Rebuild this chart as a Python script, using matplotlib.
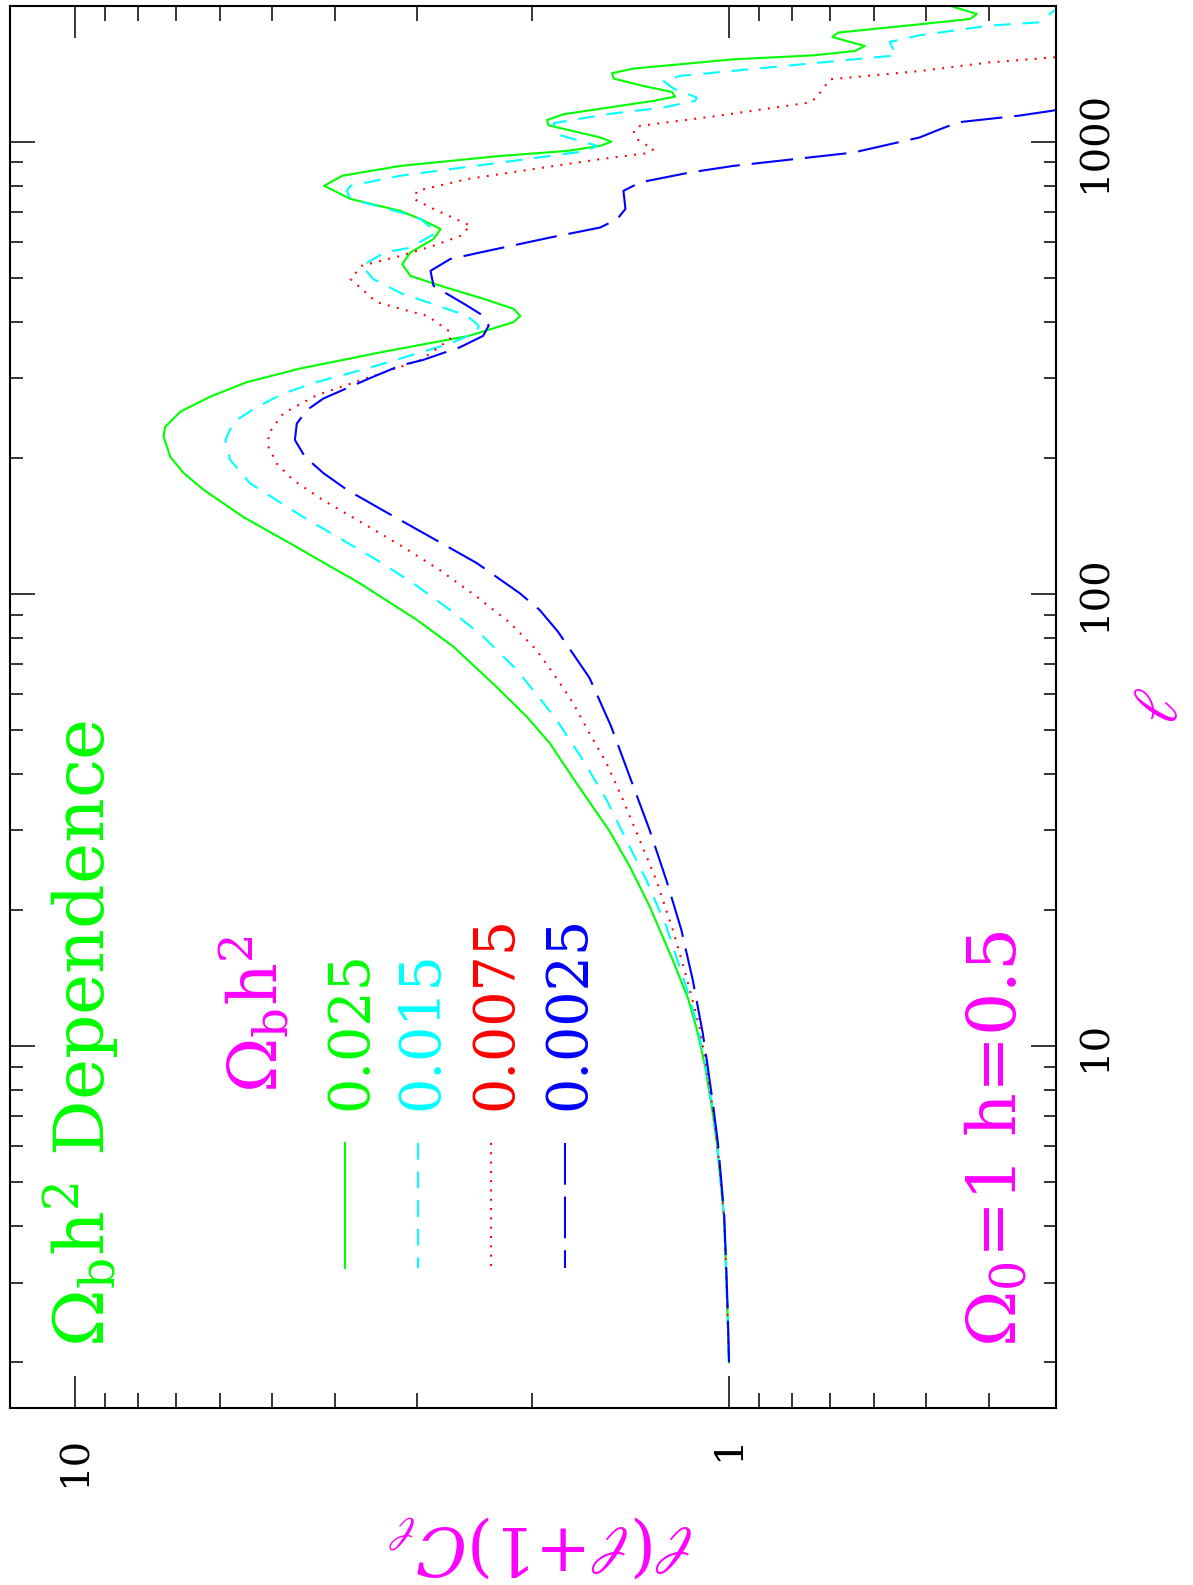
import numpy as np
import matplotlib
matplotlib.use('Agg')
import matplotlib.pyplot as plt
from matplotlib.ticker import LogLocator, NullFormatter

plt.rcParams['font.family'] = ['DejaVu Serif', 'DejaVu Sans']
plt.rcParams['mathtext.fontset'] = 'dejavuserif'
plt.rcParams['lines.scale_dashes'] = False

# multipole l and l(l+1)C_l (normalised at l=2)
l_green = [2, 2.53, 3.27, 4.22, 4.99, 6.12, 7.37, 9.03, 10.9, 12.7, 15.5, 20.4, 25.0,
           29.9, 38.2, 46.8, 53.6, 62.4, 76.5, 87.6, 105.6, 129.4, 148, 170, 185, 201,
           223, 234, 253, 273, 294, 315, 343, 372, 399, 412, 427, 449, 480, 505, 536,
           569, 609, 641, 674, 703, 747, 799, 841, 884, 930, 954, 979, 1000, 1022,
           1087, 1117, 1150, 1231, 1258, 1288, 1333, 1379, 1417, 1451, 1521, 1552,
           1587, 1628, 1704, 1743, 1818, 1868, 1916, 1983, 2000]
c_green = [1.0, 1.005, 1.011, 1.018, 1.03, 1.044, 1.063, 1.088, 1.12, 1.154, 1.219,
           1.323, 1.419, 1.523, 1.712, 1.88, 2.04, 2.27, 2.64, 3.0, 3.67, 4.69, 5.53,
           6.36, 6.82, 7.15, 7.32, 7.28, 6.9, 6.21, 5.46, 4.53, 3.38, 2.5, 2.135,
           2.085, 2.135, 2.37, 2.76, 3.07, 3.16, 3.07, 2.83, 2.76, 2.96, 3.18, 3.79,
           4.16, 3.9, 3.18, 2.237, 1.769, 1.574, 1.514, 1.574, 1.888, 1.898, 1.79,
           1.305, 1.209, 1.223, 1.367, 1.5, 1.51, 1.4, 0.985, 0.743, 0.642, 0.62,
           0.695, 0.681, 0.511, 0.428, 0.418, 0.452, 0.46]

l_cyan = [2, 2.53, 3.27, 4.22, 4.99, 6.12, 7.37, 9.03, 10.9, 12.7, 14.3, 18.4, 23.3,
          28.6, 35.1, 43.0, 52.7, 58.8, 67.9, 80.5, 92.2, 105.6, 119, 134, 148, 161,
          175.6, 198, 219, 240, 259, 277.5, 294, 315, 340, 358, 379, 392, 412, 441,
          460, 497, 532, 569, 583, 630, 674, 698, 747, 779, 799, 841, 899, 954, 979,
          1039, 1099, 1150, 1190, 1231, 1252, 1311, 1362, 1398, 1458, 1552, 1662,
          1719, 1806, 1836, 1950, 2000]
c_cyan = [1.0, 1.005, 1.011, 1.018, 1.029, 1.043, 1.061, 1.085, 1.115, 1.147, 1.177,
          1.247, 1.338, 1.436, 1.54, 1.673, 1.836, 1.948, 2.11, 2.377, 2.67, 3.04,
          3.46, 3.98, 4.48, 4.91, 5.4, 5.79, 5.89, 5.72, 5.27, 4.8, 4.27, 3.58, 3.0,
          2.67, 2.43, 2.414, 2.515, 2.88, 3.15, 3.5, 3.64, 3.36, 3.07, 2.8, 2.96,
          3.18, 3.79, 3.84, 3.79, 3.18, 2.237, 1.65, 1.592, 1.833, 1.855, 1.537, 1.26,
          1.127, 1.12, 1.216, 1.26, 1.188, 0.876, 0.555, 0.568, 0.511, 0.4, 0.336,
          0.318, 0.31]

l_red = [2, 2.53, 3.27, 4.22, 4.99, 6.12, 7.37, 9.03, 11.07, 14.3, 18.1, 23.3, 28.6,
         35.1, 42.3, 49.2, 57.4, 65.2, 75.2, 86.2, 98.6, 113, 127, 143, 161, 178.6,
         194, 211.5, 226, 251, 275, 300, 329, 366, 380, 412, 427, 442, 497, 532, 559,
         589, 619, 652, 710, 746.5, 778.6, 826.5, 870, 915, 943, 962, 1013, 1057,
         1084, 1140, 1221, 1252, 1374, 1433, 1497, 1536, 1600]
c_red = [1.0, 1.005, 1.011, 1.018, 1.029, 1.043, 1.06, 1.083, 1.11, 1.163, 1.219,
         1.292, 1.37, 1.453, 1.54, 1.634, 1.732, 1.836, 1.97, 2.16, 2.43, 2.77, 3.15,
         3.62, 4.17, 4.64, 4.91, 5.06, 5.06, 4.8, 4.27, 3.58, 2.96, 2.67, 2.67, 2.894,
         3.18, 3.46, 3.79, 3.64, 3.18, 2.83, 2.575, 2.485, 2.83, 3.03, 3.0, 2.515,
         1.99, 1.574, 1.335, 1.305, 1.383, 1.4, 1.367, 1.044, 0.752, 0.735, 0.701,
         0.511, 0.4, 0.319, 0.26]

l_blue = [2, 2.53, 3.27, 4.22, 4.99, 6.12, 7.37, 9.03, 10.7, 14.0, 18.1, 23.3, 30.1,
          39.5, 50.9, 65.2, 82.5, 92.2, 100.4, 117, 134, 153, 170, 185, 201, 219, 238,
          255, 270.5, 300, 320, 329, 351, 372, 392, 416, 434, 480, 518, 550, 569, 614,
          646, 674, 710, 778.6, 813, 855, 884, 918, 946, 1022, 1060, 1104, 1142, 1171,
          1250]
c_blue = [1.0, 1.004, 1.01, 1.017, 1.027, 1.04, 1.057, 1.078, 1.097, 1.136, 1.183,
          1.247, 1.323, 1.419, 1.514, 1.634, 1.826, 1.948, 2.09, 2.43, 2.87, 3.38,
          3.84, 4.17, 4.45, 4.61, 4.58, 4.42, 4.17, 3.54, 3.18, 2.94, 2.58, 2.377,
          2.33, 2.4, 2.515, 2.83, 2.86, 2.67, 2.4, 1.876, 1.574, 1.483, 1.44, 1.45,
          1.367, 1.147, 0.985, 0.779, 0.646, 0.511, 0.48, 0.446, 0.36, 0.32, 0.26]

labels = ['0.025', '0.015', '0.0075', '0.0025']
colors = ['#00ff00', '#00ffff', '#ff0000', '#0000ff']
styles = ['-', (0, (12, 8.6)), (0, (1.4, 5.3)), (0, (30, 8.6))]

fig = plt.figure(figsize=(11.93, 15.85), dpi=100)
ax = fig.add_axes([0.008, 0.1117, 0.8772, 0.8845])

series = [(l_green, c_green), (l_cyan, c_cyan), (l_red, c_red), (l_blue, c_blue)]
for (ll, cc), col, ls in zip(series, colors, styles):
    ax.plot(cc, ll, color=col, ls=ls, lw=1.5)

ax.set_xscale('log')
ax.set_yscale('log')
ax.set_xlim(10 ** 1.1, 10 ** -0.5)
ax.set_ylim(10 ** 0.2, 10 ** 3.3)

ax.set_xticks([1, 10], ['1', '10'])
ax.set_yticks([10, 100, 1000], ['10', '100', '1000'])
for axis in (ax.xaxis, ax.yaxis):
    axis.set_minor_locator(LogLocator(base=10, subs=np.arange(2, 10), numticks=100))
    axis.set_minor_formatter(NullFormatter())

ax.tick_params(which='both', direction='in', top=True, bottom=True, left=True,
               right=True, width=1.1, labelsize=29)
ax.tick_params(axis='x', which='major', length=23, pad=20, labelrotation=90)
ax.tick_params(axis='x', which='minor', length=11)
ax.tick_params(axis='y', which='major', length=18, pad=15, labelrotation=90,
               labelleft=False, labelright=True)
ax.tick_params(axis='y', which='minor', length=9)
for lab in ax.get_yticklabels():
    lab.set_va('center')
for sp in ax.spines.values():
    sp.set_linewidth(1.5)

W, H = 1193.0, 1585.0


def rtext(x, y, s, color, size):
    # rotated text, baseline at pixel column x, starting at pixel row y
    fig.text(x / W, 1 - y / H, s, color=color, fontsize=size, rotation=90,
             rotation_mode='anchor', ha='left', va='baseline')


rtext(105, 1347, r'$\Omega_{\mathrm{b}}\mathrm{h}^{2}$ Dependence', '#00ff00', 50)
rtext(278, 1093, r'$\Omega_{\mathrm{b}}\mathrm{h}^{2}$', '#ff00ff', 48)
rtext(1016, 1347, r'$\Omega_{\mathrm{0}}$=1 h=0.5', '#ff00ff', 49)

# legend: sample line plus value
lx = [345, 418, 491, 565]
bx = [366, 437, 511, 584]
for x0, xb, lab, col, ls in zip(lx, bx, labels, colors, styles):
    rtext(xb, 1110, lab, col, 40)
    ax.plot([x0 / W, x0 / W], [1 - 1143 / H, 1 - 1268 / H], color=col, ls=ls, lw=1.5,
            transform=fig.transFigure, clip_on=False)

fig.text(542 / W, 1 - 1545 / H, r'$\ell(\ell{+}1)C_\ell$', color='#ff00ff', fontsize=48,
         rotation=180, ha='center', va='center')
fig.text(1160 / W, 1 - 706 / H, r'$\ell$', color='#ff00ff', fontsize=44,
         rotation=90, ha='center', va='center')

fig.savefig('out.png', dpi=100)
